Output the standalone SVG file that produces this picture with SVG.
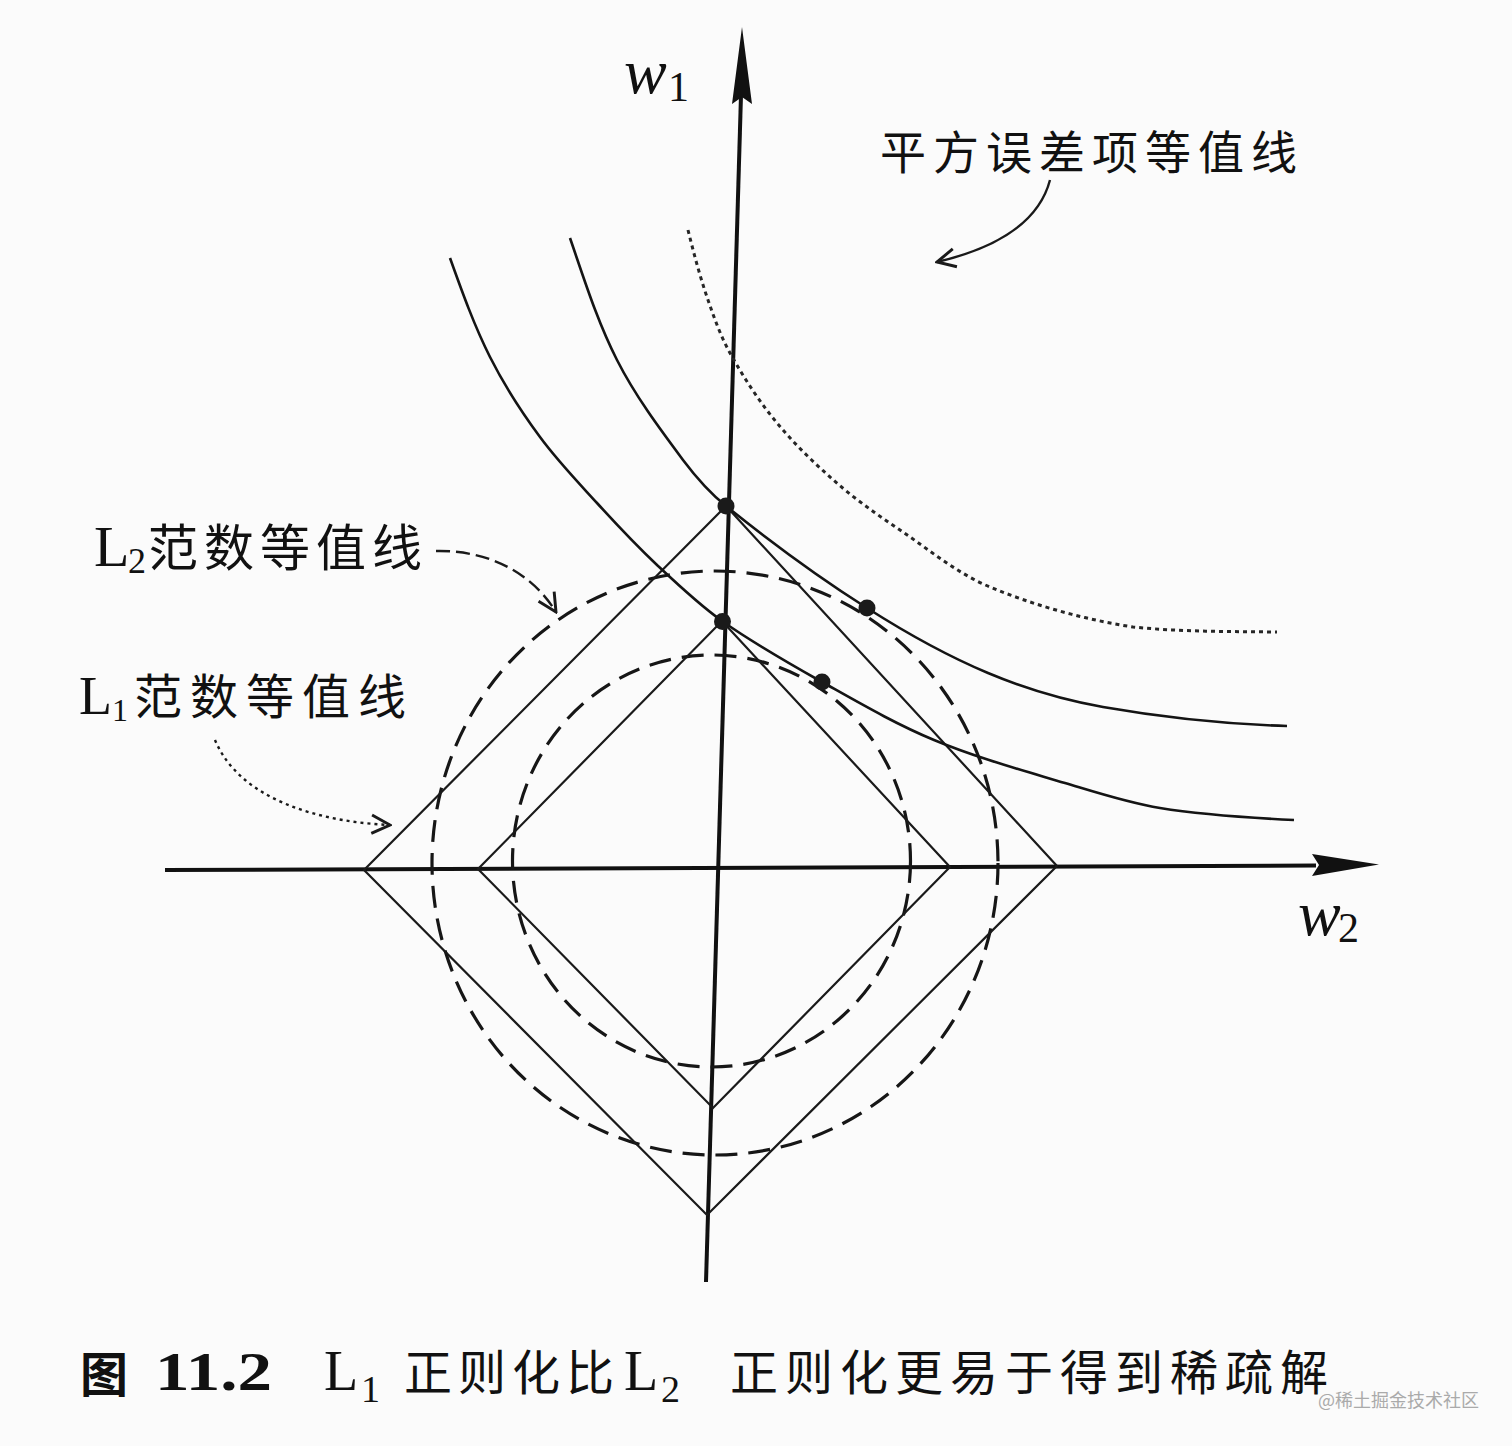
<svg xmlns="http://www.w3.org/2000/svg" width="1512" height="1446" viewBox="0 0 1512 1446">
<style>
.axis{stroke:#111;stroke-width:4;fill:none}
.solid{stroke:#141414;stroke-width:2.6;fill:none}
.dotted{stroke:#262626;stroke-width:3;fill:none;stroke-dasharray:4 4}
.diamond{stroke:#1a1a1a;stroke-width:2.2;fill:none;stroke-linejoin:miter}
.dashc{stroke:#161616;stroke-width:3.2;fill:none;stroke-dasharray:22 11}
.dot{fill:#1a1a1a}
.cjk{font-family:"Noto Sans CJK SC","Noto Sans",sans-serif;fill:#111}
.ser{font-family:"Liberation Serif","DejaVu Serif",serif;fill:#111}
.math{font-family:"Liberation Serif","DejaVu Serif",serif;font-style:italic;fill:#111}
.ann{stroke:#1a1a1a;stroke-width:2.4;fill:none}
</style>
<defs>
<marker id="open" markerUnits="userSpaceOnUse" markerWidth="22" markerHeight="22" viewBox="0 0 12 12" refX="11" refY="6" orient="auto">
<path d="M1,1 L11,6 L1,11" fill="none" stroke="#1a1a1a" stroke-width="1.6"/>
</marker>
</defs>
<rect width="1512" height="1446" fill="#fbfbfb"/>

<g id="axes">
<line class="axis" x1="165" y1="870" x2="1316" y2="865.5"/>
<polygon points="1379,864.5 1312,854 1319,865 1312,876" fill="#111"/>
<line class="axis" x1="706" y1="1282" x2="741" y2="95"/>
<polygon points="742,27 752,104 742,97 732,104" fill="#111"/>
</g>

<g id="l2-norm-contours">
<ellipse class="dashc" cx="715" cy="863" rx="283" ry="292"/>
<ellipse class="dashc" cx="711.5" cy="861" rx="199" ry="206"/>
</g>

<g id="l1-norm-contours">
<polygon class="diamond" points="726,506 1057,866 707,1215 364,870"/>
<polygon class="diamond" points="722,621 950,867 713,1108 478,869"/>
</g>

<g id="error-contours">
<path class="solid" d="M450,258 C462,291.5 474,325.2 490,357 C504.1,385.1 521.4,411.7 540,437 C557.2,460.5 577.4,481.5 597,503 C616.4,524.3 636.1,545.2 657,565 C677.8,584.6 698.7,604.5 722,621 C753.8,643.5 788,662.9 822,682 C858.6,702.5 895.2,723.9 934,740 C976.5,757.7 1020.9,769.8 1065,783 C1096.3,792.4 1127.7,802.8 1160,808 C1204.2,815.2 1249.2,817.8 1294,820"/>
<path class="solid" d="M570,238 C584.2,279.2 597.2,321.2 617,360 C635.1,395.6 659.1,428 683,460 C695.6,476.8 709.6,492.8 726,506 C771.2,542.4 818.1,576.9 867,608 C905.6,632.6 945.8,655.3 988,673 C1024.9,688.5 1063.6,700 1103,707 C1163.8,717.7 1225.3,724.1 1287,726"/>
<path class="dotted" d="M688,230 C693.6,252.5 699.5,275.1 707,297 C713.5,316.1 720.2,335.3 730,353 C743.7,377.6 759.1,401.3 777,423 C795.3,445.2 816.3,465.1 838,484 C857.4,500.9 878.7,515.6 900,530 C929.4,549.9 957.2,573.4 990,587 C1035.7,606 1084.1,619.3 1133,627 C1180.8,631.8 1229,631.5 1277,632"/>
</g>

<g id="tangent-points">
<circle class="dot" cx="726" cy="506" r="8.5"/>
<circle class="dot" cx="722.5" cy="621.5" r="8.5"/>
<circle class="dot" cx="867" cy="608" r="8.5"/>
<circle class="dot" cx="822" cy="682" r="8.5"/>
</g>

<g id="connectors">
<path class="ann" d="M1050,180 C1040,218 1005,246 937,262" marker-end="url(#open)"/>
<path class="ann" d="M436,551 C485,550 530,570 556,612" stroke-dasharray="14 6" marker-end="url(#open)"/>
<path class="ann" d="M215,740 C240,800 320,822 390,825" stroke-width="2" stroke-dasharray="3 4" marker-end="url(#open)"/>
</g>

<g id="label-w1">
<text class="math" x="624" y="93" font-size="64">w</text>
<text class="ser" x="668" y="101" font-size="42">1</text>
</g>
<g id="label-w2">
<text class="math" x="1298" y="935" font-size="64">w</text>
<text class="ser" x="1338" y="942" font-size="42">2</text>
</g>

<g id="label-error">
<text class="cjk" x="880" y="169" font-size="46" letter-spacing="7">平方误差项等值线</text>
</g>
<g id="label-l2">
<text class="ser" x="94" y="566" font-size="58">L</text>
<text class="ser" x="128" y="573" font-size="36">2</text>
<text class="cjk" x="148" y="566" font-size="50" letter-spacing="6">范数等值线</text>
</g>
<g id="label-l1">
<text class="ser" x="79" y="714" font-size="54" fill="#222">L</text>
<text class="ser" x="112" y="721" font-size="32" fill="#222">1</text>
<text class="cjk" x="134" y="714" font-size="48" letter-spacing="8" fill="#222">范数等值线</text>
</g>

<g id="caption">
<text class="cjk" x="80" y="1392" font-size="48" font-weight="bold">图</text>
<text class="ser" x="155" y="1390" font-size="54" font-weight="bold" textLength="117" lengthAdjust="spacingAndGlyphs">11.2</text>
<text class="ser" x="324" y="1390" font-size="56">L</text>
<text class="ser" x="361" y="1402" font-size="38">1</text>
<text class="cjk" x="404" y="1390" font-size="48" letter-spacing="6">正则化比</text>
<text class="ser" x="624" y="1390" font-size="56">L</text>
<text class="ser" x="661" y="1402" font-size="38">2</text>
<text class="cjk" x="730" y="1390" font-size="48" letter-spacing="7">正则化更易于得到稀疏解</text>
</g>

<g id="watermark">
<text class="cjk" x="1318" y="1407" font-size="18" style="fill:#aaa">@稀土掘金技术社区</text>
</g>
</svg>
